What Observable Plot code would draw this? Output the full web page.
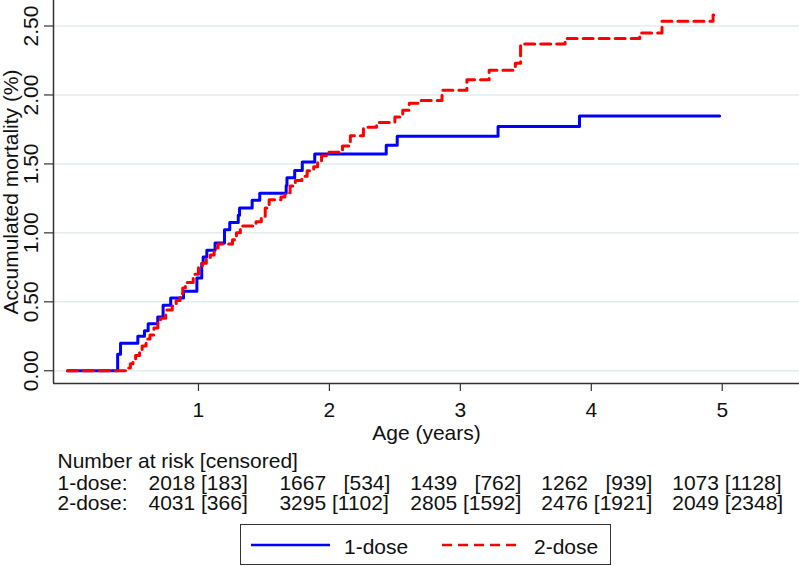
<!DOCTYPE html>
<html>
<head>
<meta charset="utf-8">
<script src="https://cdn.jsdelivr.net/npm/d3@7"></script>
<script src="https://cdn.jsdelivr.net/npm/@observablehq/plot@0.6"></script>
<style>
  body { margin: 0; background: #fff; font-family: "Liberation Sans", Arial, sans-serif; color: #111; }
  #legend { position: relative; margin-left: 240px; margin-top: 4px; width: 371px; height: 41px; border: 1px solid #333; box-sizing: border-box; }
  #legend svg { position: absolute; left: 0; top: 0; }
</style>
</head>
<body>
<div id="chart"></div>
<div id="legend"></div>
<script>
// ---- data ----
const seriesNames = ["1-dose", "2-dose"];
const seriesColors = ["#0000ff", "#ff0000"];

const oneDoseTimes  = [0, 0.383, 0.405, 0.537, 0.588, 0.616, 0.689, 0.73, 0.788, 0.886, 0.988, 1.025, 1.036, 1.064, 1.127, 1.199, 1.239, 1.304, 1.314, 1.41, 1.468, 1.67, 1.676, 1.735, 1.793, 1.888, 2.434, 2.518, 3.288, 3.91, 4.98];
const oneDoseValues = [0, 0.12, 0.20, 0.25, 0.29, 0.34, 0.39, 0.475, 0.528, 0.577, 0.672, 0.78, 0.825, 0.873, 0.926, 1.022, 1.075, 1.127, 1.18, 1.236, 1.287, 1.344, 1.40, 1.453, 1.513, 1.572, 1.636, 1.70, 1.772, 1.848, 1.848];

const twoDoseTimes  = [0, 0.46, 0.48, 0.50, 0.52, 0.55, 0.57, 0.60, 0.63, 0.66, 0.69, 0.71, 0.75, 0.80, 0.83, 0.86, 0.88, 0.90, 0.96, 1.00, 1.03, 1.06, 1.09, 1.12, 1.15, 1.26, 1.29, 1.32, 1.44, 1.48, 1.51, 1.54, 1.63, 1.66, 1.70, 1.74, 1.79, 1.83, 1.88, 1.91, 1.94, 1.98, 2.10, 2.16, 2.26, 2.36, 2.50, 2.56, 2.61, 2.70, 2.86, 3.05, 3.22, 3.42, 3.46, 3.80, 4.37, 4.54, 4.93, 4.98];
const twoDoseValues = [0, 0.02, 0.05, 0.08, 0.11, 0.15, 0.18, 0.23, 0.26, 0.31, 0.35, 0.38, 0.44, 0.47, 0.51, 0.56, 0.60, 0.64, 0.70, 0.75, 0.78, 0.81, 0.84, 0.89, 0.92, 0.95, 1.00, 1.05, 1.08, 1.12, 1.18, 1.24, 1.26, 1.29, 1.34, 1.38, 1.41, 1.45, 1.48, 1.52, 1.56, 1.585, 1.63, 1.705, 1.765, 1.80, 1.84, 1.89, 1.94, 1.96, 2.035, 2.11, 2.18, 2.23, 2.37, 2.41, 2.45, 2.535, 2.58, 2.58];

const xTicks = [1, 2, 3, 4, 5];
const yTicks = [0, 0.5, 1, 1.5, 2, 2.5];
const xTitle = "Age (years)";
const yTitle = "Accumulated mortality (%)";

const riskHeader = "Number at risk [censored]";
const riskRowLabels = ["1-dose:", "2-dose:"];
const riskTimes = [1, 2, 3, 4, 5];
const atRisk1 = [2018, 1667, 1439, 1262, 1073];
const censored1 = [183, 534, 762, 939, 1128];
const atRisk2 = [4031, 3295, 2805, 2476, 2049];
const censored2 = [366, 1102, 1592, 1921, 2348];

// ---- build tables ----
const curve1 = oneDoseTimes.map((t, i) => ({t, v: oneDoseValues[i]}));
const curve2 = twoDoseTimes.map((t, i) => ({t, v: twoDoseValues[i]}));
const NB = "\u00a0";
function cell(n, c, other) {
  const pad = String(other).length > String(c).length ? NB + NB : "";
  return `${n}${NB}${pad}[${c}]`;
}
const riskRows = [
  riskTimes.map((t, i) => ({t, s: cell(atRisk1[i], censored1[i], censored2[i])})),
  riskTimes.map((t, i) => ({t, s: cell(atRisk2[i], censored2[i], censored1[i])}))
];

const FS = 21;
const xDomain = [-0.107, 5.59];
const yDomain = [-0.0924, 2.685];
const rowDy = [106, 126];

const marks = [
  Plot.gridY(yTicks, {stroke: "#e3ecef", strokeOpacity: 1, strokeWidth: 1.5}),
  Plot.ruleX([xDomain[0]], {stroke: "#333", strokeWidth: 1.5}),
  Plot.ruleY([yDomain[0]], {stroke: "#333", strokeWidth: 1.5}),
  Plot.axisY({ticks: yTicks, tickSize: 9, tickFormat: () => "", label: null, stroke: "#333", strokeWidth: 1.2}),
  Plot.text(yTicks, {y: d => d, text: d => d3.format(".2f")(d), frameAnchor: "left", rotate: -90, dx: -16,
    textAnchor: "middle", lineAnchor: "bottom", fontSize: FS, fill: "#111"}),
  Plot.axisX({ticks: xTicks, tickFormat: d3.format("d"), tickSize: 8, tickPadding: 11, fontSize: FS, label: null, stroke: "#333", strokeWidth: 1.2, fill: "#111"}),
  Plot.text([yTitle], {frameAnchor: "left", rotate: -90, dx: -36, textAnchor: "middle", lineAnchor: "bottom", fontSize: FS, fill: "#111"}),
  Plot.text([xTitle], {frameAnchor: "bottom", dy: 56, lineAnchor: "bottom", fontSize: FS, fill: "#111"}),
  Plot.text([riskHeader], {frameAnchor: "bottom-left", dx: 4, dy: 84, textAnchor: "start", lineAnchor: "bottom", fontSize: FS, fill: "#111"}),
  Plot.line(curve1, {x: "t", y: "v", curve: "step-after", stroke: seriesColors[0], strokeWidth: 3}),
  Plot.line(curve2, {x: "t", y: "v", curve: "step-after", stroke: seriesColors[1], strokeWidth: 3, strokeDasharray: "10,6"})
];
riskRowLabels.forEach((lab, r) => {
  marks.push(Plot.text([lab], {frameAnchor: "bottom-left", dx: 4, dy: rowDy[r], textAnchor: "start", lineAnchor: "bottom", fontSize: FS, fill: "#111"}));
  marks.push(Plot.text(riskRows[r], {x: "t", text: "s", frameAnchor: "bottom", dx: -50, dy: rowDy[r], textAnchor: "start", lineAnchor: "bottom", fontSize: FS, fill: "#111"}));
});

const chart = Plot.plot({
  width: 799,
  height: 520,
  marginLeft: 53,
  marginRight: 0,
  marginTop: 0,
  marginBottom: 137,
  style: {fontFamily: '"Liberation Sans", Arial, sans-serif', fontSize: FS + "px", background: "#fff", color: "#111", overflow: "visible"},
  x: {domain: xDomain},
  y: {domain: yDomain},
  marks
});
document.getElementById("chart").appendChild(chart);

// ---- legend (HTML/SVG below the chart) ----
const lg = d3.select("#legend").append("svg").attr("width", 371).attr("height", 41);
const legendItems = [
  {x1: 10, x2: 89, tx: 103, dash: null},
  {x1: 201, x2: 281, tx: 293, dash: "10,6"}
];
legendItems.forEach((it, i) => {
  lg.append("line").attr("x1", it.x1).attr("x2", it.x2).attr("y1", 20).attr("y2", 20)
    .attr("stroke", seriesColors[i]).attr("stroke-width", 2.5).attr("stroke-dasharray", it.dash);
  lg.append("text").attr("x", it.tx).attr("y", 29).attr("font-size", FS).attr("fill", "#111")
    .attr("font-family", '"Liberation Sans", Arial, sans-serif').text(seriesNames[i]);
});
</script>
</body>
</html>
